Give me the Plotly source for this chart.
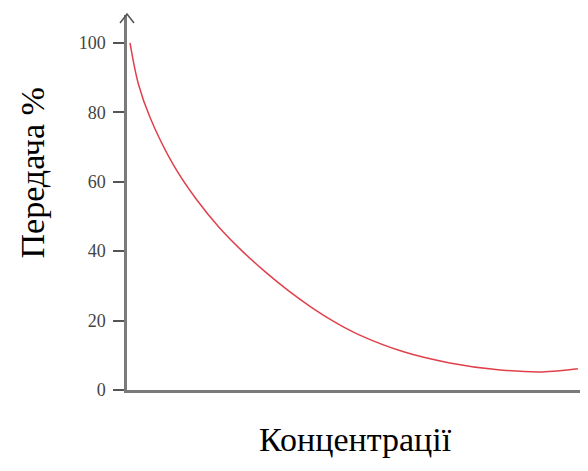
import plotly.graph_objects as go

# Data
concentration = [0.65, 2.5, 5, 10, 15, 20, 25, 30, 35, 40, 45, 50, 60, 70, 80, 90, 97.8]
transmission = [100, 88, 78.5, 65.0, 55.0, 46.8, 40.0, 34.0, 28.6, 23.8, 19.6, 16.1, 11.0, 7.8, 5.9, 5.2, 6.1]
y_ticks = [0, 20, 40, 60, 80, 100]
x_title = "Концентрації"
y_title = "Передача %"

fig = go.Figure()
fig.add_trace(go.Scatter(
    x=concentration, y=transmission, mode="lines",
    line=dict(color="#e0404c", width=1.5, shape="spline", smoothing=1.0),
    hoverinfo="skip", showlegend=False,
))

axis_color = "#7a7a7a"
fig.update_layout(
    width=580, height=463,
    margin=dict(l=119, r=0, t=7, b=81),
    paper_bgcolor="white", plot_bgcolor="white",
    xaxis=dict(range=[0, 100], showgrid=False, zeroline=False, showticklabels=False,
               ticks="", showline=True, linecolor=axis_color, linewidth=2.5, fixedrange=True),
    yaxis=dict(range=[0, 108], showgrid=False, zeroline=False, tickvals=y_ticks,
               ticks="outside", ticklen=11, tickwidth=1.5, tickcolor="#555",
               showline=True, linecolor=axis_color, linewidth=2.5,
               tickfont=dict(family="Liberation Serif", size=18, color="#444"),
               ticklabelstandoff=4, automargin=False),
    shapes=[dict(type="path", xref="paper", yref="paper", xsizemode="pixel", ysizemode="pixel",
                 xanchor=0, yanchor=1, path="M -7,-8 L 0,1 L 7,-8",
                 line=dict(color="#555", width=1.5))],
    annotations=[
        dict(text=x_title, xref="paper", yref="paper", x=0.495, y=-0.133,
             xanchor="center", yanchor="middle", showarrow=False,
             font=dict(family="Liberation Serif", size=34, color="black")),
        dict(text=y_title, xref="paper", yref="paper", x=-0.204, y=0.58,
             xanchor="center", yanchor="middle", showarrow=False, textangle=-90,
             font=dict(family="Liberation Serif", size=34, color="black")),
    ],
)

fig.write_html("out.html")
